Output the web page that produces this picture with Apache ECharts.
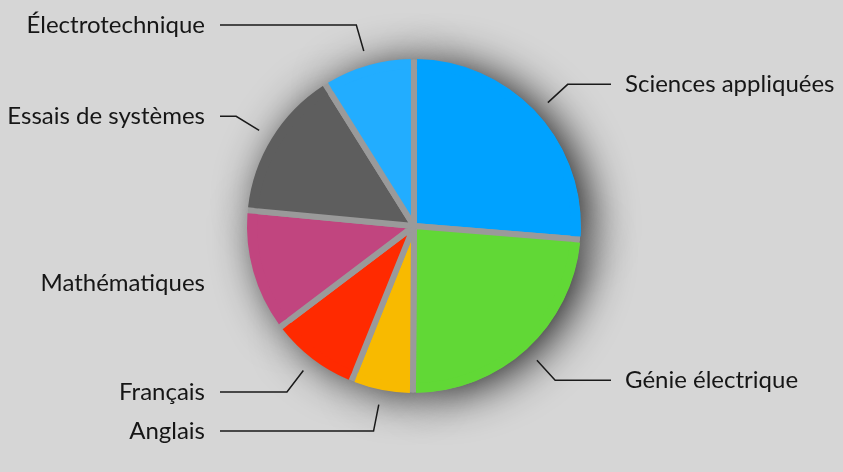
<!DOCTYPE html>
<html><head><meta charset="utf-8">
<script src="https://cdn.jsdelivr.net/npm/echarts@6/dist/echarts.min.js"></script>
<style>html,body{margin:0;padding:0;background:#d6d6d6}#c{width:843px;height:472px}</style>
</head><body><div id="c"></div>
<script>
const categories = ['Sciences appliquées', 'Génie électrique', 'Anglais', 'Français', 'Mathématiques', 'Essais de systèmes', 'Électrotechnique'];
const values = [26.3, 23.8, 6.0, 8.6, 11.8, 14.6, 8.9];
const colors = ['#00a2ff', '#61d836', '#f8ba00', '#ff2a00', '#c1457f', '#5e5e5e', '#22adff'];
const noLeaderLine = ['Mathématiques'];

const CX = 414, CY = 226, R = 167, GAPW = 6;
const GAP = '#9a9a9a';

const chart = echarts.init(document.getElementById('c'), null, {renderer: 'canvas'});

const mainData = categories.map((n, i) => {
  const d = {name: n, value: values[i], itemStyle: {color: colors[i]}};
  if (noLeaderLine.includes(n)) d.labelLine = {lineStyle: {opacity: 0}};
  return d;
});
const plainData = categories.map((n, i) => ({name: n, value: values[i], itemStyle: {color: colors[i]}}));
const shadowData = categories.map((n, i) => ({name: n, value: values[i]}));

chart.setOption({
  backgroundColor: '#d6d6d6',
  animation: false,
  series: [
    {
      type: 'pie', silent: true, z: 1,
      center: [CX, CY], radius: R - 2,
      startAngle: 90, clockwise: true,
      label: {show: false}, labelLine: {show: false},
      itemStyle: {color: GAP, borderWidth: 0, shadowBlur: 45, shadowColor: 'rgba(0,0,0,0.9)', shadowOffsetX: 10, shadowOffsetY: 3},
      data: shadowData
    },
    {
      type: 'pie', z: 2,
      center: [CX, CY], radius: R - GAPW / 2 - 0.5,
      startAngle: 90, clockwise: true,
      itemStyle: {borderColor: GAP, borderWidth: GAPW},
      label: {show: true, formatter: '{b}', fontFamily: 'Lato', fontSize: 24, color: '#161616'},
      labelLine: {show: true, length: 20, length2: 20, lineStyle: {color: '#1a1a1a', width: 1.5}},
      labelLayout: function (p) {
        const pts = p.labelLinePoints;
        if (!pts) return {};
        const a = pts[0];
        let ux = a[0] - CX, uy = a[1] - CY;
        const l = Math.hypot(ux, uy); ux /= l; uy /= l;
        const start = [CX + ux * 182, CY + uy * 182];
        const elbow = [CX + ux * 209, CY + uy * 209];
        const left = ux < 0;
        const endX = left ? 220 : 611;
        return {
          x: left ? 205 : 625, y: elbow[1],
          align: left ? 'right' : 'left', verticalAlign: 'middle',
          labelLinePoints: [start, elbow, [endX, elbow[1]]]
        };
      },
      data: mainData
    },
    {
      type: 'pie', silent: true, z: 3,
      center: [CX, CY], radius: [R - 10, R],
      startAngle: 90, clockwise: true,
      padAngle: GAPW / (R - 5) * 180 / Math.PI,
      label: {show: false}, labelLine: {show: false},
      itemStyle: {borderWidth: 0},
      data: plainData
    }
  ]
});
</script></body></html>
